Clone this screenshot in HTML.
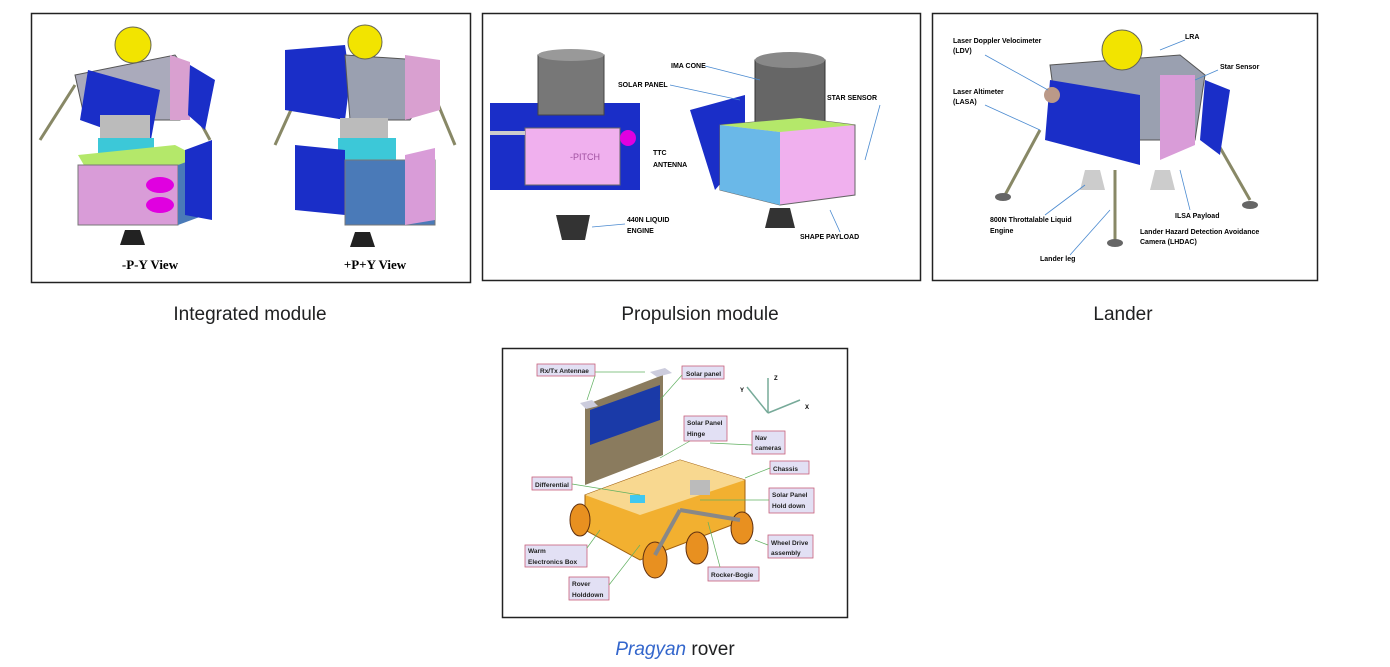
<!DOCTYPE html>
<html><head><meta charset="utf-8"><style>
body{margin:0;background:#fff;width:1390px;height:667px;overflow:hidden;position:relative;font-family:"Liberation Sans",sans-serif}
.cap{position:absolute;font-size:19px;color:#202122;text-align:center;width:300px}
svg{position:absolute;left:0;top:0}
</style></head><body>
<svg width="1390" height="667" viewBox="0 0 1390 667" font-family="Liberation Sans, sans-serif">
<rect x="31.5" y="13.5" width="439" height="269" fill="#fff" stroke="#222" stroke-width="1.5"/>
<rect x="482.5" y="13.5" width="438" height="267" fill="#fff" stroke="#222" stroke-width="1.5"/>
<rect x="932.5" y="13.5" width="385" height="267" fill="#fff" stroke="#222" stroke-width="1.5"/>
<rect x="502.5" y="348.5" width="345" height="269" fill="#fff" stroke="#222" stroke-width="1.5"/>

<g>
<line x1="40" y1="140" x2="75" y2="85" stroke="#886" stroke-width="3"/>
<line x1="210" y1="140" x2="180" y2="85" stroke="#886" stroke-width="3"/>
<polygon points="75,75 175,55 190,75 180,120 85,120" fill="#aab" stroke="#555"/>
<polygon points="88,70 160,90 150,145 80,120" fill="#1a2ec8"/>
<polygon points="170,55 190,62 190,120 170,120" fill="#d9a0d0"/>
<polygon points="190,65 215,80 205,130 188,115" fill="#1a2ec8"/>
<circle cx="133" cy="45" r="18" fill="#f2e400" stroke="#665"/>
<rect x="100" y="115" width="50" height="30" fill="#bbb"/>
<rect x="98" y="138" width="56" height="25" fill="#3cc8d8"/>
<polygon points="78,155 175,145 200,158 185,172 88,172" fill="#b4e86a"/>
<rect x="78" y="165" width="100" height="60" fill="#d99cd8" stroke="#777"/>
<polygon points="178,165 205,155 205,215 178,225" fill="#4a7ab8"/>
<polygon points="185,150 212,140 212,220 185,215" fill="#1a2ec8"/>
<ellipse cx="160" cy="185" rx="14" ry="8" fill="#e000e0"/>
<ellipse cx="160" cy="205" rx="14" ry="8" fill="#e000e0"/>
<polygon points="125,230 140,230 145,245 120,245" fill="#222"/>
<text x="150" y="269" font-family="Liberation Serif, serif" font-weight="bold" font-size="13" text-anchor="middle">-P-Y View</text>
</g>
<g>
<line x1="275" y1="145" x2="300" y2="90" stroke="#886" stroke-width="3"/>
<line x1="455" y1="145" x2="430" y2="85" stroke="#886" stroke-width="3"/>
<polygon points="285,50 345,45 350,80 345,120 285,110" fill="#1a2ec8"/>
<polygon points="345,55 420,60 430,90 410,120 350,120" fill="#9aa0b0" stroke="#555"/>
<polygon points="405,55 440,60 440,110 405,120" fill="#d9a0d0"/>
<circle cx="365" cy="42" r="17" fill="#f2e400" stroke="#665"/>
<rect x="340" y="118" width="48" height="24" fill="#bbb"/>
<rect x="338" y="138" width="58" height="25" fill="#3cc8d8"/>
<polygon points="295,145 345,150 345,215 295,210" fill="#1a2ec8"/>
<rect x="345" y="160" width="90" height="65" fill="#4a7ab8" stroke="#777"/>
<polygon points="405,155 435,148 435,220 405,225" fill="#d99cd8"/>
<polygon points="355,232 370,232 375,247 350,247" fill="#222"/>
<text x="375" y="269" font-family="Liberation Serif, serif" font-weight="bold" font-size="13" text-anchor="middle">+P+Y View</text>
</g>

<g font-size="7" font-weight="bold">
<rect x="490" y="103" width="150" height="87" fill="#1a2ec8"/>
<rect x="538" y="55" width="66" height="60" fill="#777" stroke="#444"/>
<ellipse cx="571" cy="55" rx="33" ry="6" fill="#999"/>
<rect x="525" y="128" width="95" height="57" fill="#f0b0ee" stroke="#666"/>
<text x="570" y="160" fill="#a050a0" font-size="9" font-weight="normal">-PITCH</text>
<circle cx="628" cy="138" r="8" fill="#e000e0"/>
<polygon points="556,215 590,215 585,240 562,240" fill="#333"/>
<line x1="490" y1="133" x2="525" y2="133" stroke="#ccc" stroke-width="4"/>
<polygon points="690,110 745,95 745,155 715,190" fill="#1a2ec8"/>
<rect x="755" y="60" width="70" height="70" fill="#666" stroke="#333"/>
<ellipse cx="790" cy="60" rx="35" ry="8" fill="#888"/>
<polygon points="720,125 800,118 855,125 855,195 780,205 720,190" fill="#f0b0ee" stroke="#666"/>
<polygon points="720,125 780,132 780,205 720,190" fill="#6ab8e8"/>
<polygon points="720,125 800,118 855,125 780,132" fill="#b4e86a"/>
<polygon points="770,208 790,208 795,228 765,228" fill="#333"/>
<text x="671" y="68">IMA CONE</text>
<text x="618" y="87">SOLAR PANEL</text>
<text x="653" y="155">TTC</text><text x="653" y="167">ANTENNA</text>
<text x="827" y="100">STAR SENSOR</text>
<text x="627" y="222">440N LIQUID</text><text x="627" y="233">ENGINE</text>
<text x="800" y="239">SHAPE PAYLOAD</text>
<g stroke="#4a8ad0" stroke-width="0.8">
<line x1="705" y1="66" x2="760" y2="80"/><line x1="670" y1="85" x2="740" y2="100"/>
<line x1="592" y1="227" x2="625" y2="224"/><line x1="865" y1="160" x2="880" y2="105"/>
<line x1="830" y1="210" x2="840" y2="232"/>
</g>
</g>

<g>
<line x1="1005" y1="195" x2="1040" y2="130" stroke="#886" stroke-width="3"/>
<line x1="1250" y1="200" x2="1210" y2="130" stroke="#886" stroke-width="3"/>
<line x1="1115" y1="240" x2="1115" y2="170" stroke="#886" stroke-width="3"/>
<polygon points="1050,65 1180,55 1205,75 1195,140 1060,140" fill="#9aa0b0" stroke="#555"/>
<polygon points="1050,80 1140,95 1140,165 1045,140" fill="#1a2ec8"/>
<polygon points="1160,75 1195,75 1195,145 1160,160" fill="#d99cd8"/>
<polygon points="1205,80 1230,90 1220,155 1200,140" fill="#1a2ec8"/>
<circle cx="1122" cy="50" r="20" fill="#f2e400" stroke="#665"/>
<circle cx="1052" cy="95" r="8" fill="#b98"/>
<polygon points="1085,170 1100,170 1105,190 1080,190" fill="#ccc"/>
<polygon points="1155,170 1170,170 1175,190 1150,190" fill="#ccc"/>
<ellipse cx="1003" cy="197" rx="8" ry="4" fill="#666"/>
<ellipse cx="1250" cy="205" rx="8" ry="4" fill="#666"/>
<ellipse cx="1115" cy="243" rx="8" ry="4" fill="#666"/>
<g font-size="7" font-weight="bold">
<text x="953" y="43">Laser Doppler Velocimeter</text><text x="953" y="53">(LDV)</text>
<text x="953" y="94">Laser Altimeter</text><text x="953" y="104">(LASA)</text>
<text x="1185" y="39">LRA</text>
<text x="1220" y="69">Star Sensor</text>
<text x="1175" y="218">ILSA Payload</text>
<text x="1140" y="234">Lander Hazard Detection Avoidance</text><text x="1140" y="244">Camera (LHDAC)</text>
<text x="990" y="222">800N Throttalable Liquid</text><text x="990" y="233">Engine</text>
<text x="1040" y="261">Lander leg</text>
</g>
<g stroke="#4a8ad0" stroke-width="0.8">
<line x1="985" y1="55" x2="1048" y2="90"/><line x1="985" y1="105" x2="1040" y2="130"/>
<line x1="1185" y1="40" x2="1160" y2="50"/><line x1="1218" y1="70" x2="1195" y2="80"/>
<line x1="1045" y1="215" x2="1085" y2="185"/><line x1="1070" y1="255" x2="1110" y2="210"/>
<line x1="1190" y1="210" x2="1180" y2="170"/>
</g>
</g>

<g>
<polygon points="585,405 663,375 663,455 585,485" fill="#8a7b5e"/>
<polygon points="590,410 660,385 660,420 590,445" fill="#1a3aa8"/>
<polygon points="580,403 592,400 598,406 586,409" fill="#ccd"/>
<polygon points="650,372 665,368 672,373 657,377" fill="#ccd"/>
<polygon points="585,495 680,460 745,480 745,520 640,560 585,530" fill="#f2b030" stroke="#a06010"/>
<polygon points="585,495 680,460 745,480 640,515" fill="#f8d890"/>
<rect x="630" y="495" width="15" height="8" fill="#40c8f0"/>
<rect x="690" y="480" width="20" height="15" fill="#bbb"/>
<g fill="#e89020" stroke="#603010">
<ellipse cx="580" cy="520" rx="10" ry="16"/><ellipse cx="655" cy="560" rx="12" ry="18"/>
<ellipse cx="697" cy="548" rx="11" ry="16"/><ellipse cx="742" cy="528" rx="11" ry="16"/>
</g>
<line x1="680" y1="510" x2="740" y2="520" stroke="#888" stroke-width="4"/>
<line x1="680" y1="510" x2="655" y2="555" stroke="#888" stroke-width="4"/>
<g stroke="#7a9" stroke-width="1.5"><line x1="768" y1="378" x2="768" y2="413"/><line x1="768" y1="413" x2="800" y2="400"/><line x1="768" y1="413" x2="747" y2="387"/></g>
<g font-size="6" font-weight="bold">
<text x="774" y="380">Z</text><text x="740" y="392">Y</text><text x="805" y="409">X</text>
</g>
<g fill="#e2e0f4" stroke="#c8607a" stroke-width="0.8">
<rect x="537" y="364" width="58" height="12"/><rect x="682" y="366" width="42" height="13"/>
<rect x="684" y="416" width="43" height="25"/><rect x="752" y="431" width="33" height="23"/>
<rect x="770" y="461" width="39" height="13"/><rect x="532" y="477" width="40" height="13"/>
<rect x="769" y="488" width="45" height="25"/><rect x="768" y="535" width="45" height="23"/>
<rect x="525" y="545" width="62" height="22"/><rect x="569" y="577" width="40" height="23"/>
<rect x="708" y="567" width="51" height="14"/>
</g>
<g font-size="6.5" font-weight="bold" fill="#222">
<text x="540" y="373">Rx/Tx Antennae</text><text x="686" y="376">Solar panel</text>
<text x="687" y="425">Solar Panel</text><text x="687" y="436">Hinge</text>
<text x="755" y="440">Nav</text><text x="755" y="450">cameras</text>
<text x="773" y="471">Chassis</text><text x="535" y="487">Differential</text>
<text x="772" y="497">Solar Panel</text><text x="772" y="508">Hold down</text>
<text x="771" y="545">Wheel Drive</text><text x="771" y="555">assembly</text>
<text x="528" y="553">Warm</text><text x="528" y="564">Electronics Box</text>
<text x="572" y="586">Rover</text><text x="572" y="597">Holddown</text>
<text x="711" y="577">Rocker-Bogie</text>
</g>
<g stroke="#60b060" stroke-width="0.7">
<line x1="595" y1="376" x2="587" y2="400"/><line x1="595" y1="372" x2="645" y2="372"/>
<line x1="682" y1="375" x2="660" y2="400"/><line x1="690" y1="441" x2="660" y2="458"/>
<line x1="752" y1="445" x2="710" y2="443"/><line x1="770" y1="468" x2="745" y2="478"/>
<line x1="572" y1="484" x2="640" y2="495"/><line x1="769" y1="500" x2="700" y2="500"/>
<line x1="768" y1="545" x2="755" y2="540"/><line x1="587" y1="548" x2="600" y2="530"/>
<line x1="609" y1="585" x2="640" y2="545"/><line x1="720" y1="567" x2="708" y2="522"/>
</g>
</g>
</svg>
<div class="cap" style="left:100px;top:304px">Integrated module</div>
<div class="cap" style="left:550px;top:304px">Propulsion module</div>
<div class="cap" style="left:973px;top:304px">Lander</div>
<div class="cap" style="left:525px;top:639px"><i style="color:#3366cc">Pragyan</i> rover</div>
</body></html>
